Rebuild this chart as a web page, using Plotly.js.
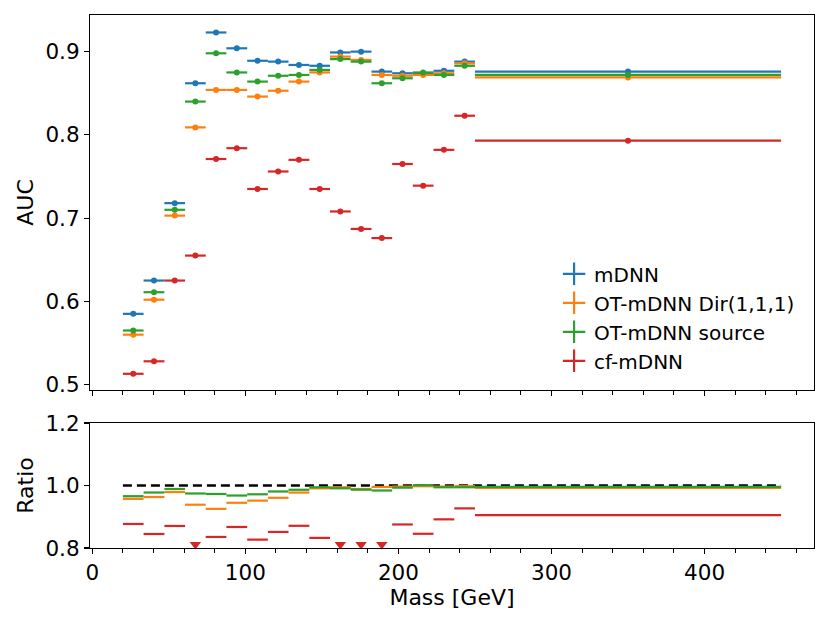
<!DOCTYPE html>
<html>
<head>
<meta charset="utf-8">
<script src="https://cdn.plot.ly/plotly-3.0.1.min.js"></script>
<style>
  body { margin: 0; background: #fff; }
  #plot { width: 830px; height: 623px; }
</style>
</head>
<body>
<div id="plot"></div>
<script>
// mass bin edges [GeV]
const binEdges = [20, 33.5, 47.1, 60.6, 74.1, 87.6, 101.2, 114.7, 128.2, 141.8,
                  155.3, 168.8, 182.4, 195.9, 209.4, 222.9, 236.5, 250, 450];

// AUC per mass bin
const aucMDNN   = [0.585, 0.625, 0.718, 0.862, 0.923, 0.904, 0.889, 0.888, 0.884, 0.883,
                   0.899, 0.900, 0.876, 0.874, 0.874, 0.877, 0.888, 0.876];
const aucOTDir  = [0.560, 0.602, 0.703, 0.809, 0.854, 0.854, 0.846, 0.853, 0.864, 0.875,
                   0.894, 0.890, 0.872, 0.871, 0.872, 0.874, 0.886, 0.869];
const aucOTSrc  = [0.565, 0.611, 0.710, 0.840, 0.898, 0.875, 0.864, 0.871, 0.872, 0.878,
                   0.891, 0.888, 0.862, 0.868, 0.875, 0.872, 0.883, 0.872];
const aucCF     = [0.513, 0.528, 0.625, 0.655, 0.771, 0.784, 0.735, 0.756, 0.770, 0.735,
                   0.708, 0.687, 0.676, 0.765, 0.739, 0.782, 0.823, 0.793];

const seriesNames = ["mDNN", "OT-mDNN Dir(1,1,1)", "OT-mDNN source", "cf-mDNN"];
const colors = ["#1f77b4", "#ff7f0e", "#2ca02c", "#d62728"];

const ratioLow = 0.8;

let centers = [];
let halfWidths = [];
for (let i = 0; i < binEdges.length - 1; i++) {
    centers.push((binEdges[i] + binEdges[i + 1]) / 2);
    halfWidths.push((binEdges[i + 1] - binEdges[i]) / 2);
}

const allAuc = [aucMDNN, aucOTDir, aucOTSrc, aucCF];
const font = "DejaVu Sans, sans-serif";
let data = [];

// ratio panel reference line
data.push({
    x: [binEdges[0], binEdges[binEdges.length - 1]], y: [1, 1],
    xaxis: "x", yaxis: "y2", mode: "lines",
    line: {color: "black", width: 2.6, dash: "9px,5px"},
    showlegend: false, hoverinfo: "skip"
});

allAuc.forEach((auc, k) => {
    // top panel points with bin-width bars
    data.push({
        x: centers, y: auc, xaxis: "x2", yaxis: "y",
        mode: "markers", type: "scatter",
        marker: {color: colors[k], size: 6},
        error_x: {type: "data", array: halfWidths, color: colors[k], thickness: 2.2, width: 0},
        showlegend: false
    });
    // legend entry drawn as a cross like matplotlib errorbar
    data.push({
        x: [null], y: [null], xaxis: "x2", yaxis: "y",
        mode: "markers", name: seriesNames[k], legendgroup: "g" + k,
        marker: {symbol: "cross-thin", size: 17, color: colors[k], line: {color: colors[k], width: 2.2}}
    });
    if (k === 0) return;
    // ratio to mDNN
    let ratio = auc.map((v, i) => v / aucMDNN[i]);
    data.push({
        x: centers, y: ratio, xaxis: "x", yaxis: "y2",
        mode: "markers", marker: {color: colors[k], size: 1, opacity: 0},
        error_x: {type: "data", array: halfWidths, color: colors[k], thickness: 2.2, width: 0},
        showlegend: false, hoverinfo: "skip"
    });
    let lowX = centers.filter((c, i) => ratio[i] < ratioLow);
    if (lowX.length) {
        data.push({
            x: lowX, y: lowX.map(() => ratioLow + 0.011), xaxis: "x", yaxis: "y2",
            mode: "markers",
            marker: {symbol: "triangle-down", size: 10, color: colors[k]},
            showlegend: false, cliponaxis: false
        });
    }
});

const axisCommon = {
    showline: true, linecolor: "black", linewidth: 1.1, mirror: true,
    ticks: "outside", ticklen: 5, tickwidth: 1.1, tickcolor: "black",
    showgrid: false, zeroline: false,
    tickfont: {family: font, size: 21.5, color: "black"}
};

const layout = {
    width: 830, height: 623,
    margin: {l: 90, r: 16, t: 15, b: 75},
    paper_bgcolor: "white", plot_bgcolor: "white",
    font: {family: font, color: "black"},
    showlegend: true,
    legend: {
        x: 0.641, y: 0.551, xanchor: "left", yanchor: "top",
        font: {family: font, size: 20, color: "black"},
        bgcolor: "rgba(255,255,255,0)", borderwidth: 0,
        traceorder: "grouped", tracegroupgap: 0
    },
    xaxis: Object.assign({}, axisCommon, {
        anchor: "y2", domain: [0, 1], range: [-1.5, 471.5],
        tickvals: [0, 100, 200, 300, 400],
        minor: {dtick: 20, tick0: 0, ticks: "outside", ticklen: 4, tickwidth: 1, tickcolor: "black"},
        title: {text: "Mass [GeV]", font: {family: font, size: 22}, standoff: 5}
    }),
    xaxis2: Object.assign({}, axisCommon, {
        anchor: "y", matches: "x", range: [-1.5, 471.5], showticklabels: false,
        tickvals: [0, 100, 200, 300, 400],
        minor: {dtick: 20, tick0: 0, ticks: "outside", ticklen: 4, tickwidth: 1, tickcolor: "black"}
    }),
    yaxis: Object.assign({}, axisCommon, {
        anchor: "x2", domain: [0.2964, 1], range: [0.4935, 0.944],
        tickvals: [0.5, 0.6, 0.7, 0.8, 0.9], ticktext: ["0.5", "0.6", "0.7", "0.8", "0.9"],
        title: {text: "AUC", font: {family: font, size: 22}, standoff: 5}
    }),
    yaxis2: Object.assign({}, axisCommon, {
        anchor: "x", domain: [0, 0.2345], range: [0.8, 1.2],
        tickvals: [0.8, 1.0, 1.2], ticktext: ["0.8", "1.0", "1.2"],
        title: {text: "Ratio", font: {family: font, size: 22}, standoff: 5}
    })
};

Plotly.newPlot("plot", data, layout, {displayModeBar: false, staticPlot: true});
</script>
</body>
</html>
